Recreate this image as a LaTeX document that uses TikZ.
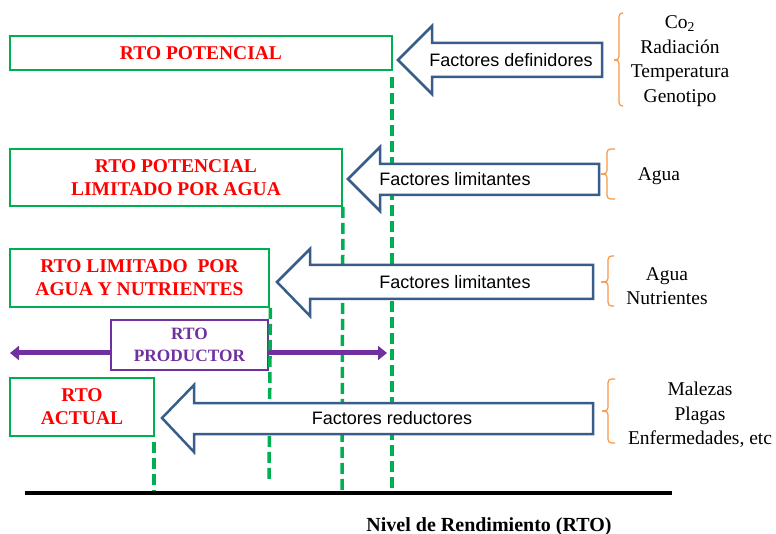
\documentclass[tikz,border=0pt]{standalone}
\usepackage{fontspec}
\setmainfont{Liberation Serif}
\newfontfamily\arialf{Liberation Sans}
\usetikzlibrary{arrows.meta}
\definecolor{boxgreen}{RGB}{0,176,80}
\definecolor{redtxt}{RGB}{255,0,0}
\definecolor{purp}{RGB}{112,48,160}
\definecolor{arrblue}{RGB}{56,93,138}
\definecolor{brc}{RGB}{247,150,70}
\tikzset{
  rtobox/.style={draw=boxgreen, line width=1.8pt, fill=white, inner sep=0pt, align=center, text=redtxt, font=\fontsize{19.5}{23}\selectfont\bfseries},
  prodbox/.style={draw=purp, line width=1.8pt, fill=white, inner sep=0pt, align=center, text=purp, font=\fontsize{17.3}{22}\selectfont\bfseries},
  levelline/.style={draw=boxgreen, line width=3.5pt, dash pattern=on 11pt off 5pt},
  bigarrow/.style={draw=arrblue, line width=2.5pt, fill=white, line join=miter},
  arrowtxt/.style={font=\arialf\fontsize{18}{21.6}\selectfont, inner sep=0pt},
  factxt/.style={align=center, font=\fontsize{19.5}{24.5}\selectfont, inner sep=0pt},
  bracepath/.style={draw=brc, line width=1.2pt, rounded corners=3.5pt},
  prodline/.style={draw=purp, line width=5pt, -{Triangle[length=9pt,width=14pt]}},
  axisline/.style={draw=black, line width=3.5pt},
  axislabel/.style={font=\fontsize{20}{24}\selectfont\bfseries, inner sep=0pt}
}
\begin{document}
\begin{tikzpicture}[x=1pt,y=-1pt]
\useasboundingbox (0,0) rectangle (776,534);

% boxes
\node[rtobox, minimum width=382pt, minimum height=34pt] (b1) at (201,53) {RTO POTENCIAL};
\node[rtobox, minimum width=332pt, minimum height=57pt] (b2) at (176,177.5) {RTO POTENCIAL\\LIMITADO POR AGUA};
\node[rtobox, minimum width=259pt, minimum height=58pt] (b3) at (139.5,278) {RTO LIMITADO\ \ POR\\AGUA Y NUTRIENTES};
\node[prodbox, minimum width=157pt, minimum height=50pt] (b4) at (189.5,345) {RTO\\PRODUCTOR};
\node[rtobox, minimum width=144pt, minimum height=58pt] (b5) at (82,407) {RTO\\ACTUAL};

% level lines
\coordinate (la0) at (392,77);
\coordinate (la1) at (392,491);
\coordinate (lb1) at (342,491);
\coordinate (lc1) at (269,483);
\coordinate (ld0) at (154,442);
\coordinate (ld1) at (154,491);
\draw[levelline] (la0) -- (la1);
\draw[levelline] (b2.south east) -- (lb1);
\draw[levelline] ([xshift=0.5pt]b3.south east) -- (lc1);
\draw[levelline] (ld0) -- (ld1);

% big arrows
\draw[bigarrow] (398,60) -- (432,26) -- (432,43) -- (602,43) -- (602,77) -- (432,77) -- (432,94) -- cycle;
\node[arrowtxt] (t1) at (511,60) {Factores definidores};
\draw[bigarrow] (348,179) -- (380,147) -- (380,164) -- (599,164) -- (599,195) -- (380,195) -- (380,211) -- cycle;
\node[arrowtxt] (t2) at (455,179) {Factores limitantes};
\draw[bigarrow] (277,282) -- (310,249) -- (310,265) -- (593,265) -- (593,299) -- (310,299) -- (310,316) -- cycle;
\node[arrowtxt] (t3) at (455,282) {Factores limitantes};
\draw[bigarrow] (162,418) -- (194,385) -- (194,403) -- (593,403) -- (593,434) -- (194,434) -- (194,452) -- cycle;
\node[arrowtxt] (t4) at (392,418) {Factores reductores};

% producer arrows
\coordinate (pl) at (10,353);
\coordinate (pr) at (387,353);
\draw[prodline] (b4.west |- pl) -- (pl);
\draw[prodline] (b4.east |- pr) -- (pr);

% braces
\draw[bracepath] (623,13) -- (619,13) -- (619,60) -- (614,60);
\draw[bracepath] (614,60) -- (619,60) -- (619,106) -- (623,106);
\draw[bracepath] (615,149) -- (607,149) -- (607,174) -- (601,174);
\draw[bracepath] (601,174) -- (607,174) -- (607,199) -- (615,199);
\draw[bracepath] (614,256) -- (608,256) -- (608,282) -- (601,282);
\draw[bracepath] (601,282) -- (608,282) -- (608,306) -- (614,306);
\draw[bracepath] (615,379) -- (608,379) -- (608,411) -- (602,411);
\draw[bracepath] (602,411) -- (608,411) -- (608,443) -- (615,443);

% factor lists
\node[factxt] (f1) at (680,61) {Co\textsubscript{2}\\Radiación\\Temperatura\\Genotipo};
\node[factxt] (f2) at (659,176) {Agua};
\node[factxt] (f3) at (667,286) {Agua\\Nutrientes};
\node[factxt] (f4) at (700,415) {Malezas\\Plagas\\Enfermedades, etc};

% axis
\coordinate (ax0) at (25,493);
\coordinate (ax1) at (672,493);
\draw[axisline] (ax0) -- (ax1);
\node[axislabel, anchor=base] (axl) at (489,531) {Nivel de Rendimiento (RTO)};
\end{tikzpicture}
\end{document}
